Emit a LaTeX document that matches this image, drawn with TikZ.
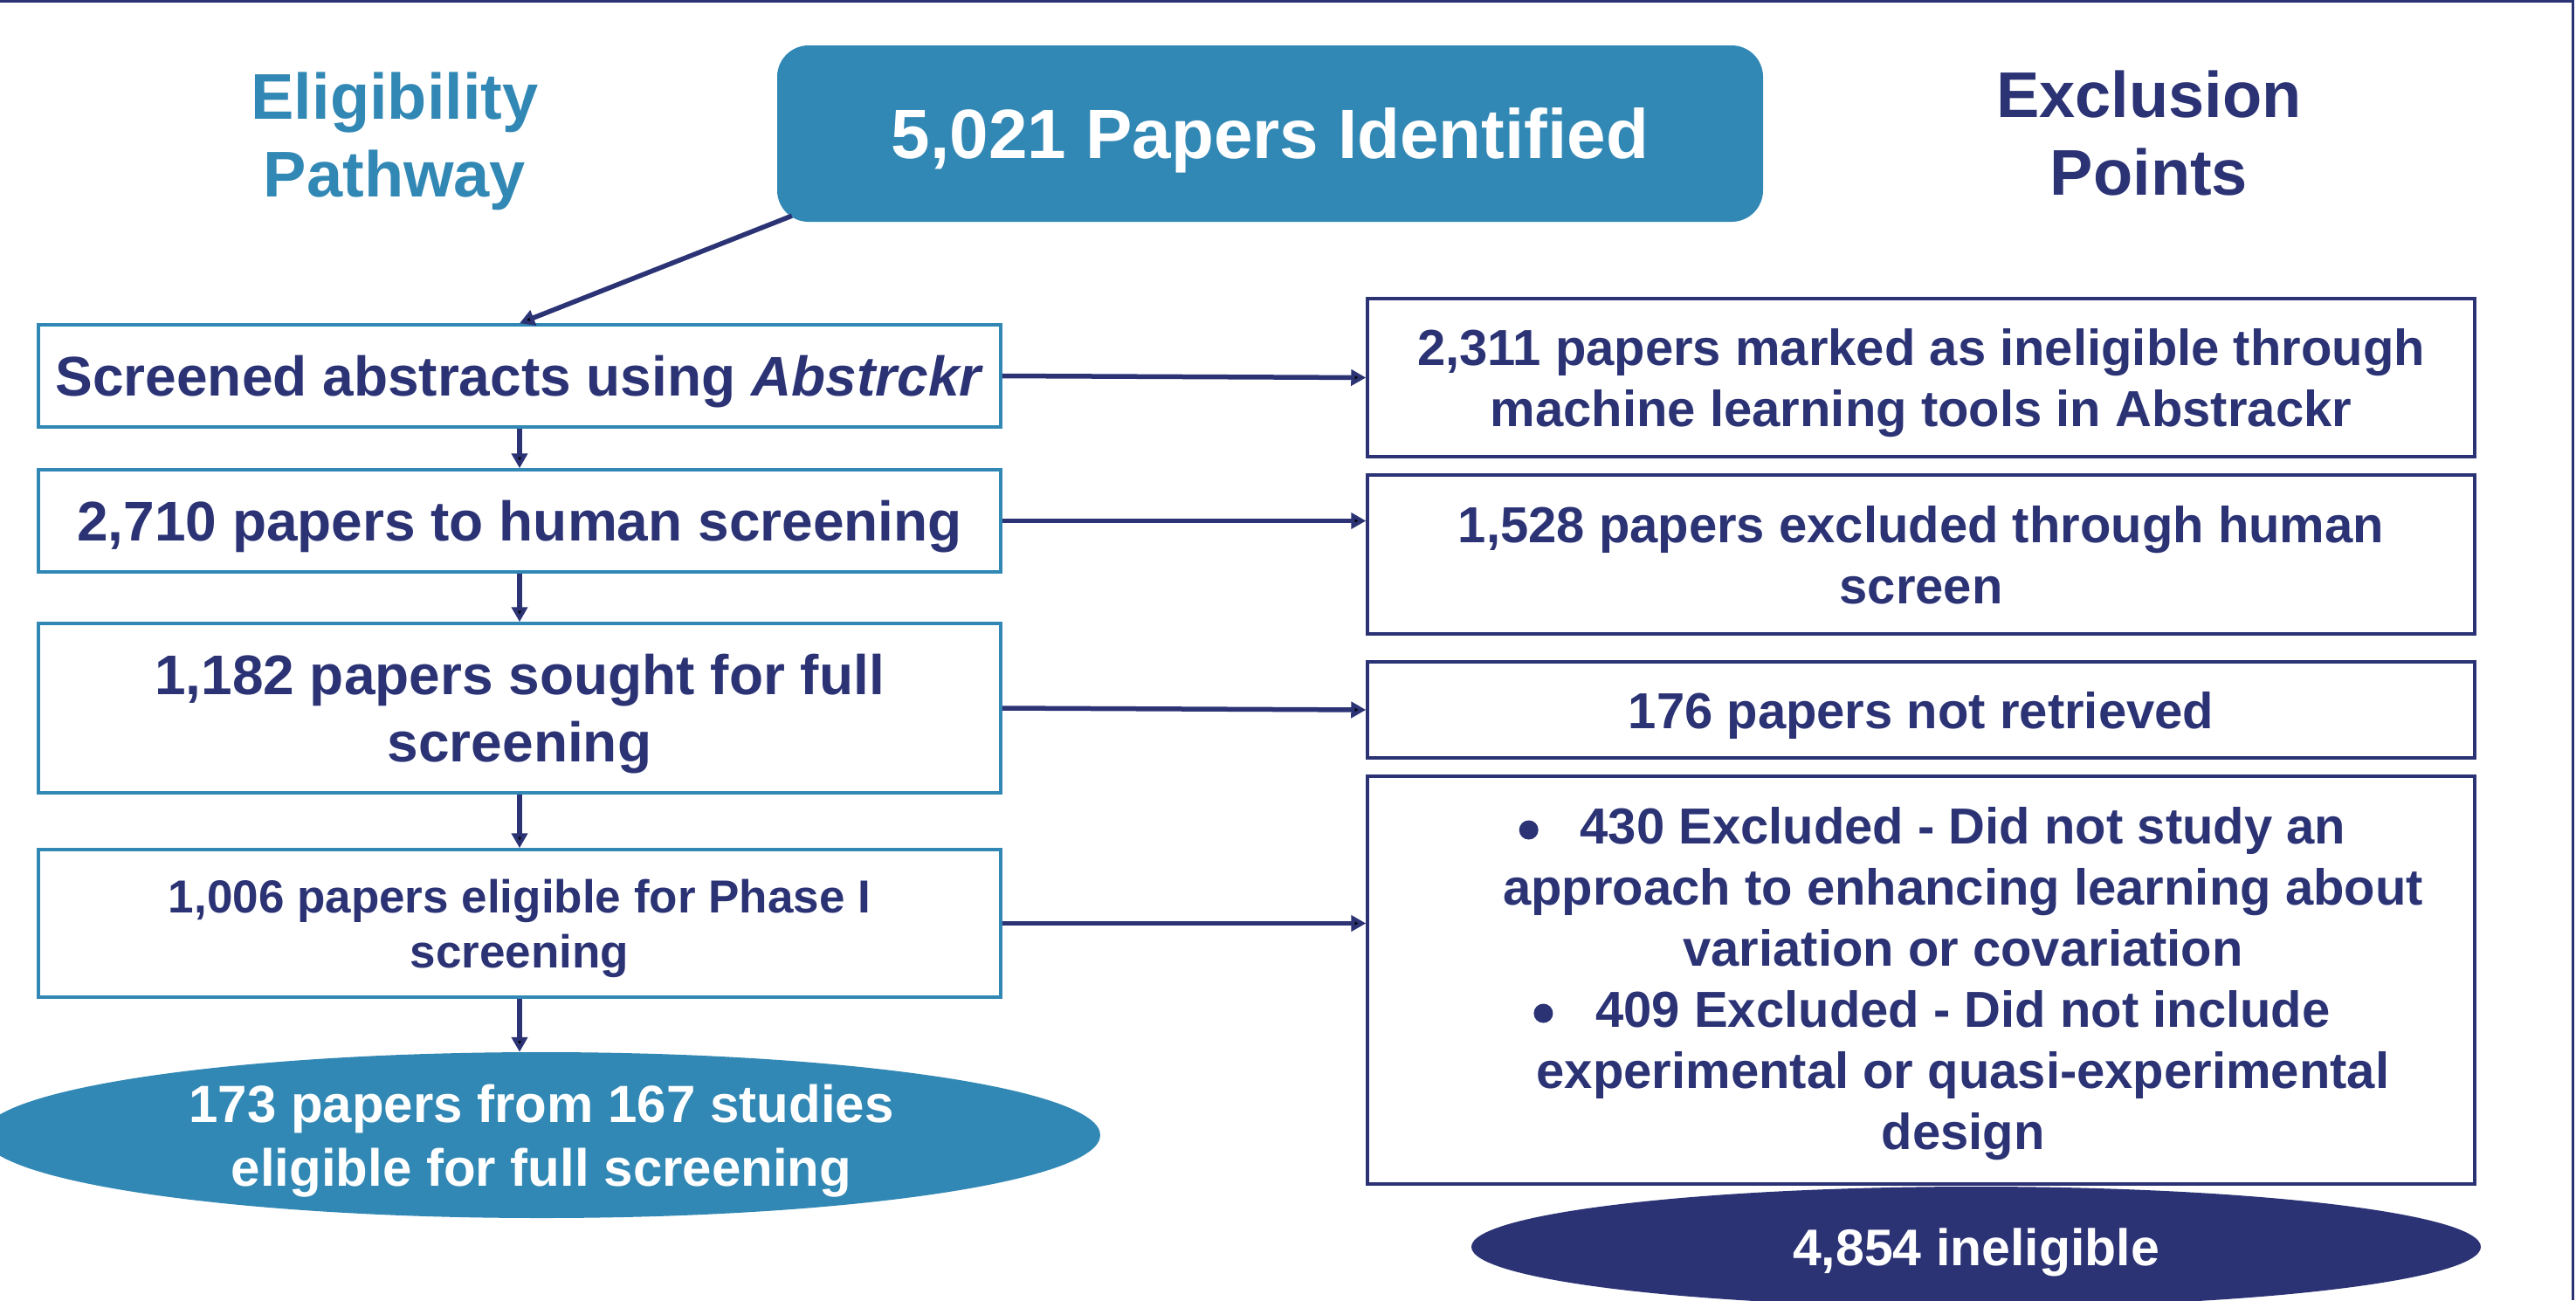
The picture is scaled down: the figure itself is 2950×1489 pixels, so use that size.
\documentclass[tikz,border=0pt]{standalone}
\usepackage{fontspec}
\setmainfont{Liberation Sans}
\usetikzlibrary{shapes.geometric,arrows.meta,calc}

\definecolor{pathblue}{RGB}{50,136,181}
\definecolor{exnavy}{RGB}{43,51,117}
\newcommand{\fsz}[2]{\fontsize{#1}{#2}\selectfont\bfseries}
% round list bullet hanging to the left of a centred line
\newcommand{\hangdot}[1]{\llap{\tikz[baseline=0pt]\fill[exnavy] (0pt,16pt) circle[radius=11pt];\hspace{#1}}}

\tikzset{
  heading/.style={align=center, inner sep=0pt, text depth=0pt, font=\fsz{74}{89}},
  pathbox/.style={draw=pathblue, line width=3.5pt, fill=white, minimum width=1102pt,
                  inner sep=0pt, align=center, text=exnavy, text depth=0pt},
  exbox/.style={draw=exnavy, line width=3.5pt, fill=white, minimum width=1268pt,
                inner sep=0pt, align=center, text=exnavy, text depth=0pt,
                font=\fsz{58}{70}},
  endpoint/.style={ellipse, inner sep=0pt, align=center, text=white, text depth=0pt},
  flow/.style={draw=exnavy, line width=5.5pt,
               -{Triangle[length=17pt,width=18pt]}},
  frame/.style={draw=exnavy, line width=3pt}
}

\begin{document}
\begin{tikzpicture}[x=1pt,y=-1pt]
  \useasboundingbox (0,0) rectangle (2950,1489);
  \fill[white] (0,0) rectangle (2950,1489);

  % slide frame (top and right edges)
  \draw[frame] (0,1.5) -- (2946.5,1.5) -- (2946.5,1489);

  % column headings
  \node[heading, text=pathblue] (elig) at (452,154.5) {Eligibility\\Pathway};
  \node[heading, text=exnavy] (excl) at (2461,152.5) {Exclusion\\Points};

  % starting pool
  \node[rectangle, rounded corners=36pt, fill=pathblue, minimum width=1129pt,
        minimum height=202pt, inner sep=0pt, text=white, text depth=0pt,
        font=\fsz{80}{96}] (top) at (1454.5,153) {5,021 Papers Identified};

  % eligibility pathway
  \node[pathbox, minimum height=117pt, font=\fsz{64}{77}] (b1) at (595,430.5)
        {Screened abstracts using \textit{Abstrckr}};
  \node[pathbox, minimum height=117pt, font=\fsz{64}{77}] (b2) at (595,596.5)
        {2,710 papers to human screening};
  \node[pathbox, minimum height=194pt, font=\fsz{64}{77}] (b3) at (595,811)
        {1,182 papers sought for full\\screening};
  \node[pathbox, minimum height=169pt, font=\fsz{53}{63}] (b4) at (595,1057.5)
        {1,006 papers eligible for Phase I\\screening};
  \node[endpoint, fill=pathblue, minimum width=1280pt, minimum height=190pt,
        font=\fsz{60}{73}] (e1) at (620,1300)
        {173 papers from 167 studies\\eligible for full screening};

  % exclusion points
  \node[exbox, minimum height=181pt] (r1) at (2200,432.5)
        {2,311 papers marked as ineligible through\\machine learning tools in Abstrackr};
  \node[exbox, minimum height=182pt] (r2) at (2200,635)
        {1,528 papers excluded through human\\screen};
  \node[exbox, minimum height=110pt] (r3) at (2200,813)
        {176 papers not retrieved};
  \node[exbox, minimum height=467pt] (r4) at (2200,1122.5) {};
  \node[align=center, inner sep=0pt, text=exnavy, text depth=0pt,
        font=\fsz{58}{70}] (r4t) at (2248,1120.5)
        {\hangdot{48pt}430 Excluded - Did not study an\\
         approach to enhancing learning about\\
         variation or covariation\\
         \hangdot{49pt}409 Excluded - Did not include\\
         experimental or quasi-experimental\\
         design};
  \node[endpoint, fill=exnavy, minimum width=1156pt, minimum height=138pt,
        font=\fsz{59}{71}] (e2) at (2263,1428) {4,854 ineligible};

  % connectors
  \draw[flow] ($(top.south west)+(17,-7)$) -- (b1.north);
  \draw[flow] (b1) -- (b2);
  \draw[flow] (b2) -- (b3);
  \draw[flow] (b3) -- (b4);
  \draw[flow] (b4.south) -- (b4.south |- e1.north);

  \draw[flow] (b1.east) -- (r1.west);
  \draw[flow] (b2.east) -- (b2.east -| r2.west);
  \draw[flow] (b3.east) -- (r3.west);
  \draw[flow] (b4.east) -- (b4.east -| r4.west);
\end{tikzpicture}
\end{document}
